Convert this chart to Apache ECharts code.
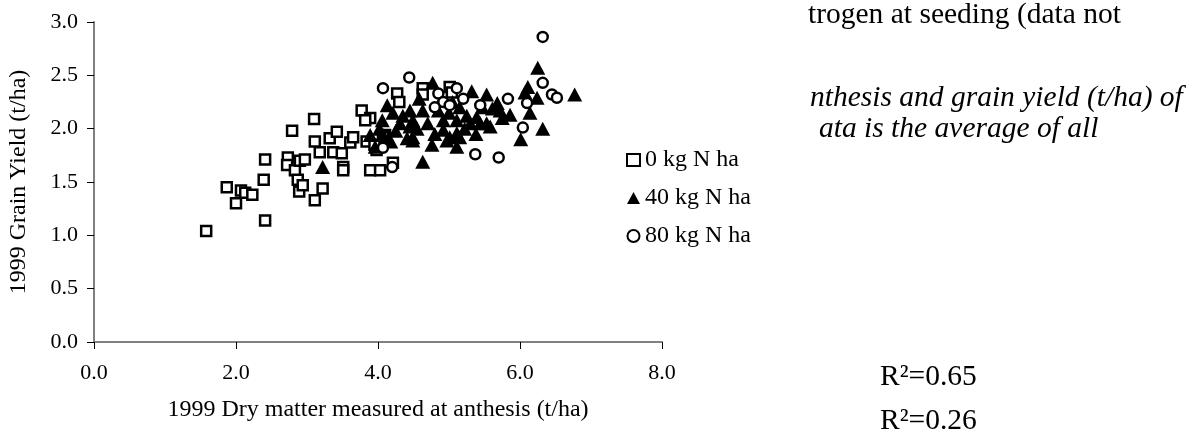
<!DOCTYPE html>
<html>
<head>
<meta charset="utf-8">
<script src="https://cdn.jsdelivr.net/npm/echarts@6/dist/echarts.min.js"></script>
<style>
  html, body { margin: 0; padding: 0; background: #fff; }
  #chart { width: 1194px; height: 429px; }
</style>
</head>
<body>
<div id="chart"></div>
<script>
const FONT_FAMILY = "'Liberation Serif', 'Times New Roman', serif"

const seriesNames = ['0 kg N ha', '40 kg N ha', '80 kg N ha']

// [dry matter at anthesis (t/ha), grain yield (t/ha)]
const n0 = [
  [1.58, 1.04], [1.87, 1.45], [2.00, 1.30], [2.07, 1.42], [2.13, 1.40], [2.23, 1.38],
  [2.41, 1.71], [2.39, 1.52], [2.41, 1.14], [2.73, 1.73], [2.79, 1.98], [2.72, 1.66],
  [2.83, 1.61], [2.87, 1.52], [2.89, 1.41], [2.94, 1.47], [2.90, 1.70], [2.97, 1.71],
  [3.10, 2.09], [3.11, 1.88], [3.11, 1.33], [3.22, 1.44], [3.18, 1.78], [3.32, 1.91],
  [3.42, 1.97], [3.37, 1.78], [3.49, 1.77], [3.51, 1.64], [3.51, 1.61], [3.61, 1.87],
  [3.65, 1.92], [3.77, 2.17], [3.89, 2.10], [3.82, 2.08], [3.84, 1.88], [3.89, 1.61],
  [4.03, 1.61], [3.98, 1.80], [4.10, 1.94], [4.27, 2.33], [4.30, 2.25], [4.21, 1.68],
  [4.63, 2.38], [4.63, 2.32], [5.01, 2.39], [5.04, 2.34], [4.07, 1.92], [3.95, 1.85]
]
const n40 = [
  [3.22, 1.64], [3.89, 1.94], [3.96, 1.83], [4.06, 2.08], [4.07, 1.94], [4.13, 2.22],
  [4.21, 2.15], [4.31, 2.05], [4.41, 1.91], [4.45, 2.17], [4.45, 2.02], [4.49, 2.08],
  [4.49, 1.92], [4.49, 1.89], [4.63, 2.17], [4.63, 1.69], [4.76, 1.85], [4.77, 2.43],
  [4.85, 2.17], [4.92, 2.08], [4.92, 1.99], [4.97, 1.89], [5.01, 1.92], [5.11, 2.08],
  [5.11, 1.96], [5.11, 1.83], [5.15, 2.20], [5.15, 1.92], [5.30, 2.05], [5.32, 2.35],
  [5.39, 2.11], [5.44, 2.05], [5.53, 2.32], [5.53, 2.05], [5.58, 2.02], [5.61, 2.19],
  [5.68, 2.24], [5.72, 2.17], [5.86, 2.13], [6.01, 1.90], [6.07, 2.34], [6.11, 2.39],
  [6.14, 2.15], [6.24, 2.29], [6.25, 2.57], [6.32, 2.00], [6.77, 2.32],
  [4.25, 1.98], [4.35, 2.12], [4.55, 2.00], [4.70, 2.05], [4.80, 1.95], [5.00, 2.15],
  [5.22, 2.00], [5.25, 2.12], [5.47, 2.20], [5.75, 2.10], [4.58, 2.28], [4.02, 2.00],
  [4.18, 1.88], [5.05, 2.25], [5.38, 1.95]
]
const n80 = [
  [6.32, 2.86], [4.44, 2.48], [4.07, 2.38], [4.85, 2.33], [5.11, 2.38], [4.92, 2.25],
  [5.01, 2.22], [5.83, 2.28], [6.10, 2.24], [6.32, 2.43], [6.04, 2.01], [5.37, 1.76],
  [5.70, 1.73], [4.07, 1.82], [4.20, 1.64], [5.44, 2.22], [6.45, 2.32], [6.52, 2.29],
  [4.80, 2.20], [5.20, 2.28]
]

const noteLines = [
  'trogen at seeding (data not',
  'nthesis and grain yield (t/ha) of',
  'ata is the average of all'
]
const r2Labels = ['R\u00b2=0.65', 'R\u00b2=0.26']

const chart = echarts.init(document.getElementById('chart'))

const axisText = { fontFamily: FONT_FAMILY, fontSize: 22, color: '#000' }
const nameText = { fontFamily: FONT_FAMILY, fontSize: 24, color: '#000' }

function textEl(x, y, text, italic) {
  return {
    type: 'text', x, y,
    style: {
      text, fill: '#000', font: (italic ? 'italic ' : '') + '29.5px ' + FONT_FAMILY,
      textAlign: 'left', textVerticalAlign: 'middle'
    }
  }
}

chart.setOption({
  animation: false,
  grid: { left: 94, right: 532, top: 22, bottom: 87 },
  xAxis: {
    type: 'value', min: 0, max: 8, interval: 2,
    name: '1999 Dry matter measured at anthesis (t/ha)',
    nameLocation: 'middle', nameGap: 56, nameTextStyle: nameText,
    axisLine: { lineStyle: { color: '#808080', width: 2 } },
    axisTick: { length: 7, lineStyle: { color: '#000', width: 1 } },
    axisLabel: { ...axisText, margin: 20, formatter: v => v.toFixed(1) },
    splitLine: { show: false }
  },
  yAxis: {
    type: 'value', min: 0, max: 3, interval: 0.5,
    name: '1999 Grain Yield (t/ha)',
    nameLocation: 'middle', nameRotate: 90, nameGap: 63, nameTextStyle: nameText,
    axisLine: { show: true, lineStyle: { color: '#808080', width: 2 } },
    axisTick: { show: true, length: 7, lineStyle: { color: '#000', width: 1 } },
    axisLabel: { ...axisText, margin: 16, formatter: v => v.toFixed(1) },
    splitLine: { show: false }
  },
  legend: {
    orient: 'vertical', left: 621, top: 143, itemGap: 14,
    itemWidth: 13, itemHeight: 12, itemStyle: { borderWidth: 2 },
    textStyle: { fontFamily: FONT_FAMILY, fontSize: 24, color: '#000' },
    data: seriesNames
  },
  series: [
    {
      name: seriesNames[0], type: 'scatter', data: n0, symbol: 'rect', symbolSize: 10,
      itemStyle: { color: '#fff', borderColor: '#000', borderWidth: 2.5, opacity: 1 }
    },
    {
      name: seriesNames[1], type: 'scatter', data: n40, symbol: 'triangle', symbolSize: [15, 14],
      itemStyle: { color: '#000', opacity: 1 }
    },
    {
      name: seriesNames[2], type: 'scatter', data: n80, symbol: 'circle', symbolSize: 10,
      itemStyle: { color: '#fff', borderColor: '#000', borderWidth: 2.5, opacity: 1 }
    }
  ],
  graphic: [
    textEl(808, 15.5, noteLines[0], false),
    textEl(810, 98, noteLines[1], true),
    textEl(819, 129, noteLines[2], true),
    textEl(880, 377.5, r2Labels[0], false),
    textEl(880, 421.5, r2Labels[1], false)
  ]
})
</script>
</body>
</html>
